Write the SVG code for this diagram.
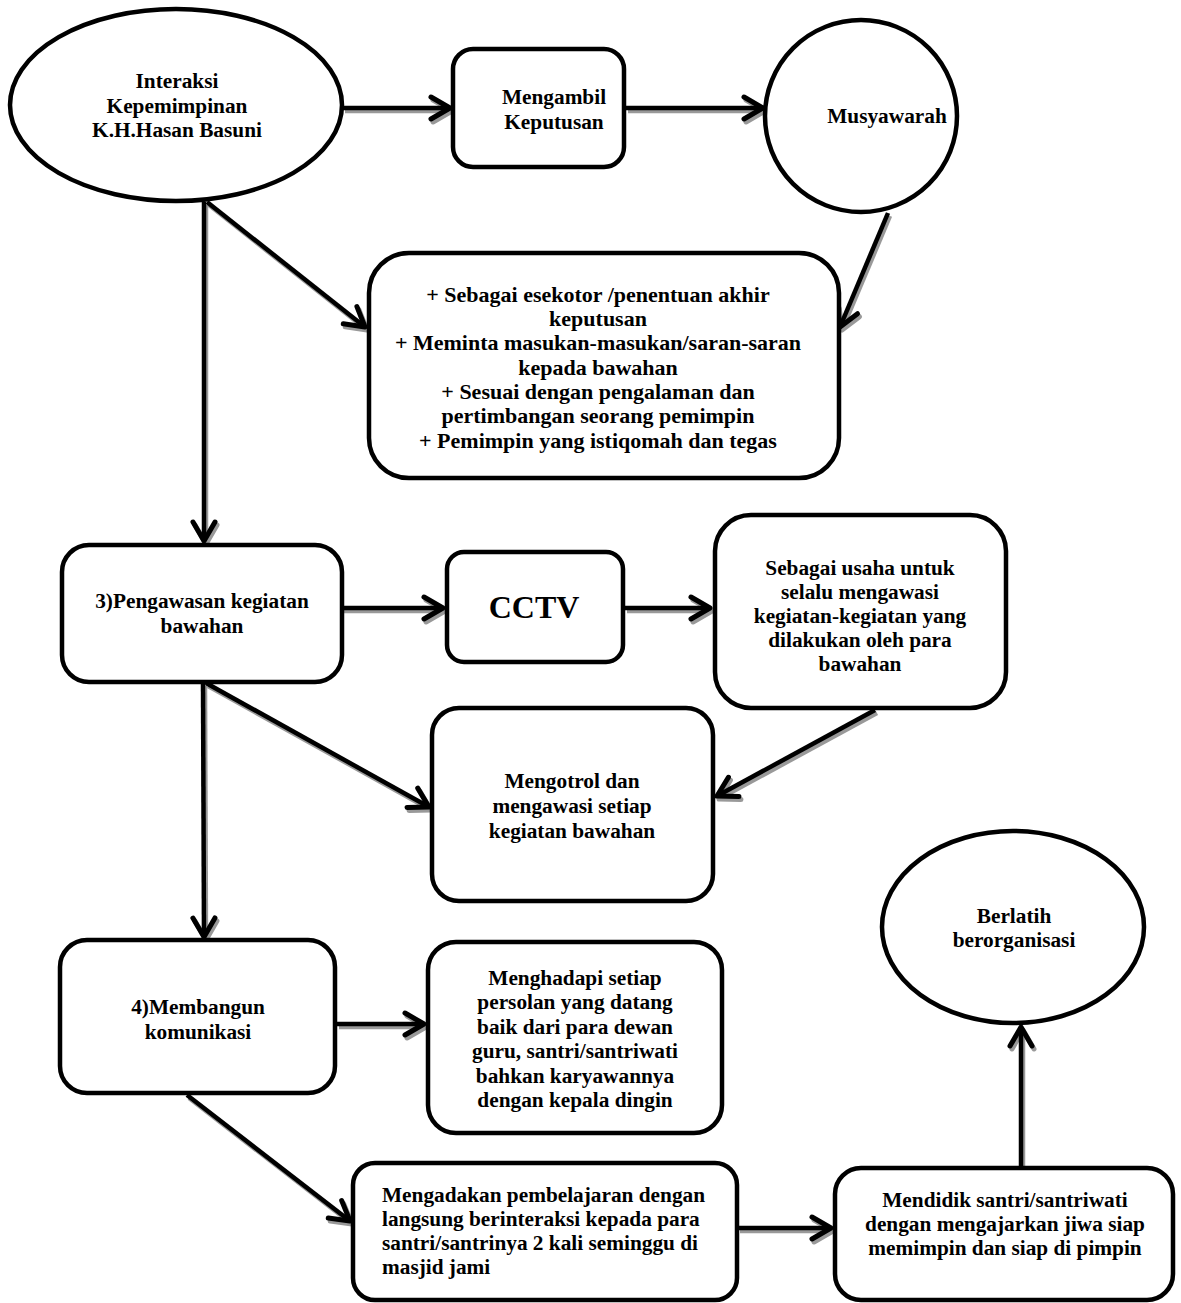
<svg xmlns="http://www.w3.org/2000/svg" width="1181" height="1303" viewBox="0 0 1181 1303">
<style>
.shape{fill:#fff;stroke:#000;stroke-width:4.5}
.t{font-family:"Liberation Serif","Times New Roman",serif;font-weight:bold;font-size:21.3px;fill:#000;text-anchor:middle}
.tl{text-anchor:start}
.big{font-size:32px}
.t22{font-size:22px}
.con{fill:none;stroke:#000;stroke-width:4.5;marker-end:url(#ah)}
.sh{fill:none;stroke:#999;stroke-width:4.5;marker-end:url(#ahs)}
</style>
<defs>
<marker id="ah" markerUnits="userSpaceOnUse" orient="auto" refX="0" refY="0" markerWidth="40" markerHeight="40" viewBox="-25 -20 30 40" overflow="visible">
<path d="M-19,-11 L0,0 L-19,11" fill="none" stroke="#000" stroke-width="5" stroke-linecap="round" stroke-linejoin="round"/>
</marker>
<marker id="ahs" markerUnits="userSpaceOnUse" orient="auto" refX="0" refY="0" markerWidth="40" markerHeight="40" viewBox="-25 -20 30 40" overflow="visible">
<path d="M-19,-11 L0,0 L-19,11" fill="none" stroke="#999" stroke-width="5" stroke-linecap="round" stroke-linejoin="round"/>
</marker>
</defs>
<rect width="1181" height="1303" fill="#fff"/>
<g id="connectors">
<g transform="translate(2,3)">
<path class="sh" d="M343,108 L450,108"/>
<path class="sh" d="M626,108 L763,108"/>
<path class="sh" d="M207,202 L365,327"/>
<path class="sh" d="M888,213 L840,327"/>
<path class="sh" d="M204,202 L204,541"/>
<path class="sh" d="M341,608 L443,608"/>
<path class="sh" d="M625,608 L710,608"/>
<path class="sh" d="M206,683 L429,807"/>
<path class="sh" d="M875,710 L717,796"/>
<path class="sh" d="M203,683 L204,937"/>
<path class="sh" d="M337,1024 L424,1024"/>
<path class="sh" d="M187,1095 L350,1221"/>
<path class="sh" d="M738,1228 L831,1228"/>
<path class="sh" d="M1021,1167 L1021,1027"/>
</g>
<path class="con" d="M343,108 L450,108"/>
<path class="con" d="M626,108 L763,108"/>
<path class="con" d="M207,202 L365,327"/>
<path class="con" d="M888,213 L840,327"/>
<path class="con" d="M204,202 L204,541"/>
<path class="con" d="M341,608 L443,608"/>
<path class="con" d="M625,608 L710,608"/>
<path class="con" d="M206,683 L429,807"/>
<path class="con" d="M875,710 L717,796"/>
<path class="con" d="M203,683 L204,937"/>
<path class="con" d="M337,1024 L424,1024"/>
<path class="con" d="M187,1095 L350,1221"/>
<path class="con" d="M738,1228 L831,1228"/>
<path class="con" d="M1021,1167 L1021,1027"/>
</g>
<g id="n-interaksi">
<ellipse class="shape" cx="176" cy="105" rx="166" ry="96"/>
<text class="t" x="177" y="88">Interaksi</text>
<text class="t" x="177" y="113">Kepemimpinan</text>
<text class="t" x="177" y="137">K.H.Hasan Basuni</text>
</g>
<g id="n-mengambil">
<rect class="shape" x="453" y="49" width="171" height="118" rx="20"/>
<text class="t" x="554" y="104">Mengambil</text>
<text class="t" x="554" y="129">Keputusan</text>
</g>
<g id="n-musyawarah">
<ellipse class="shape" cx="861" cy="116" rx="96" ry="96"/>
<text class="t" x="887" y="123">Musyawarah</text>
</g>
<g id="n-peran">
<rect class="shape" x="369" y="253" width="470" height="225" rx="40"/>
<text class="t t22" x="598" y="302">+ Sebagai esekotor /penentuan akhir</text>
<text class="t t22" x="598" y="326">keputusan</text>
<text class="t t22" x="598" y="350">+ Meminta masukan-masukan/saran-saran</text>
<text class="t t22" x="598" y="375">kepada bawahan</text>
<text class="t t22" x="598" y="399">+ Sesuai dengan pengalaman dan</text>
<text class="t t22" x="598" y="423">pertimbangan seorang pemimpin</text>
<text class="t t22" x="598" y="448">+ Pemimpin yang istiqomah dan tegas</text>
</g>
<g id="n-pengawasan">
<rect class="shape" x="62" y="545" width="280" height="137" rx="27"/>
<text class="t" x="202" y="608">3)Pengawasan kegiatan</text>
<text class="t" x="202" y="633">bawahan</text>
</g>
<g id="n-cctv">
<rect class="shape" x="447" y="552" width="176" height="110" rx="17"/>
<text class="t big" x="534" y="618">CCTV</text>
</g>
<g id="n-sebagai">
<rect class="shape" x="715" y="515" width="291" height="193" rx="36"/>
<text class="t" x="860" y="575">Sebagai usaha untuk</text>
<text class="t" x="860" y="599">selalu mengawasi</text>
<text class="t" x="860" y="623">kegiatan-kegiatan yang</text>
<text class="t" x="860" y="647">dilakukan oleh para</text>
<text class="t" x="860" y="671">bawahan</text>
</g>
<g id="n-mengotrol">
<rect class="shape" x="432" y="708" width="281" height="193" rx="27"/>
<text class="t" x="572" y="788">Mengotrol dan</text>
<text class="t" x="572" y="813">mengawasi setiap</text>
<text class="t" x="572" y="838">kegiatan bawahan</text>
</g>
<g id="n-membangun">
<rect class="shape" x="60" y="940" width="275" height="153" rx="27"/>
<text class="t" x="198" y="1014">4)Membangun</text>
<text class="t" x="198" y="1039">komunikasi</text>
</g>
<g id="n-menghadapi">
<rect class="shape" x="428" y="942" width="294" height="191" rx="28"/>
<text class="t" x="575" y="985">Menghadapi setiap</text>
<text class="t" x="575" y="1009">persolan yang datang</text>
<text class="t" x="575" y="1034">baik dari para dewan</text>
<text class="t" x="575" y="1058">guru, santri/santriwati</text>
<text class="t" x="575" y="1083">bahkan karyawannya</text>
<text class="t" x="575" y="1107">dengan kepala dingin</text>
</g>
<g id="n-berlatih">
<ellipse class="shape" cx="1013" cy="927" rx="131" ry="96"/>
<text class="t" x="1014" y="923">Berlatih</text>
<text class="t" x="1014" y="947">berorganisasi</text>
</g>
<g id="n-mengadakan">
<rect class="shape" x="353" y="1163" width="384" height="137" rx="22"/>
<text class="t tl" x="382" y="1202">Mengadakan pembelajaran dengan</text>
<text class="t tl" x="382" y="1226">langsung berinteraksi kepada para</text>
<text class="t tl" x="382" y="1250">santri/santrinya 2 kali seminggu di</text>
<text class="t tl" x="382" y="1274">masjid jami</text>
</g>
<g id="n-mendidik">
<rect class="shape" x="835" y="1168" width="338" height="132" rx="26"/>
<text class="t" x="1005" y="1207">Mendidik santri/santriwati</text>
<text class="t" x="1005" y="1231">dengan mengajarkan jiwa siap</text>
<text class="t" x="1005" y="1255">memimpin dan siap di pimpin</text>
</g>
</svg>
